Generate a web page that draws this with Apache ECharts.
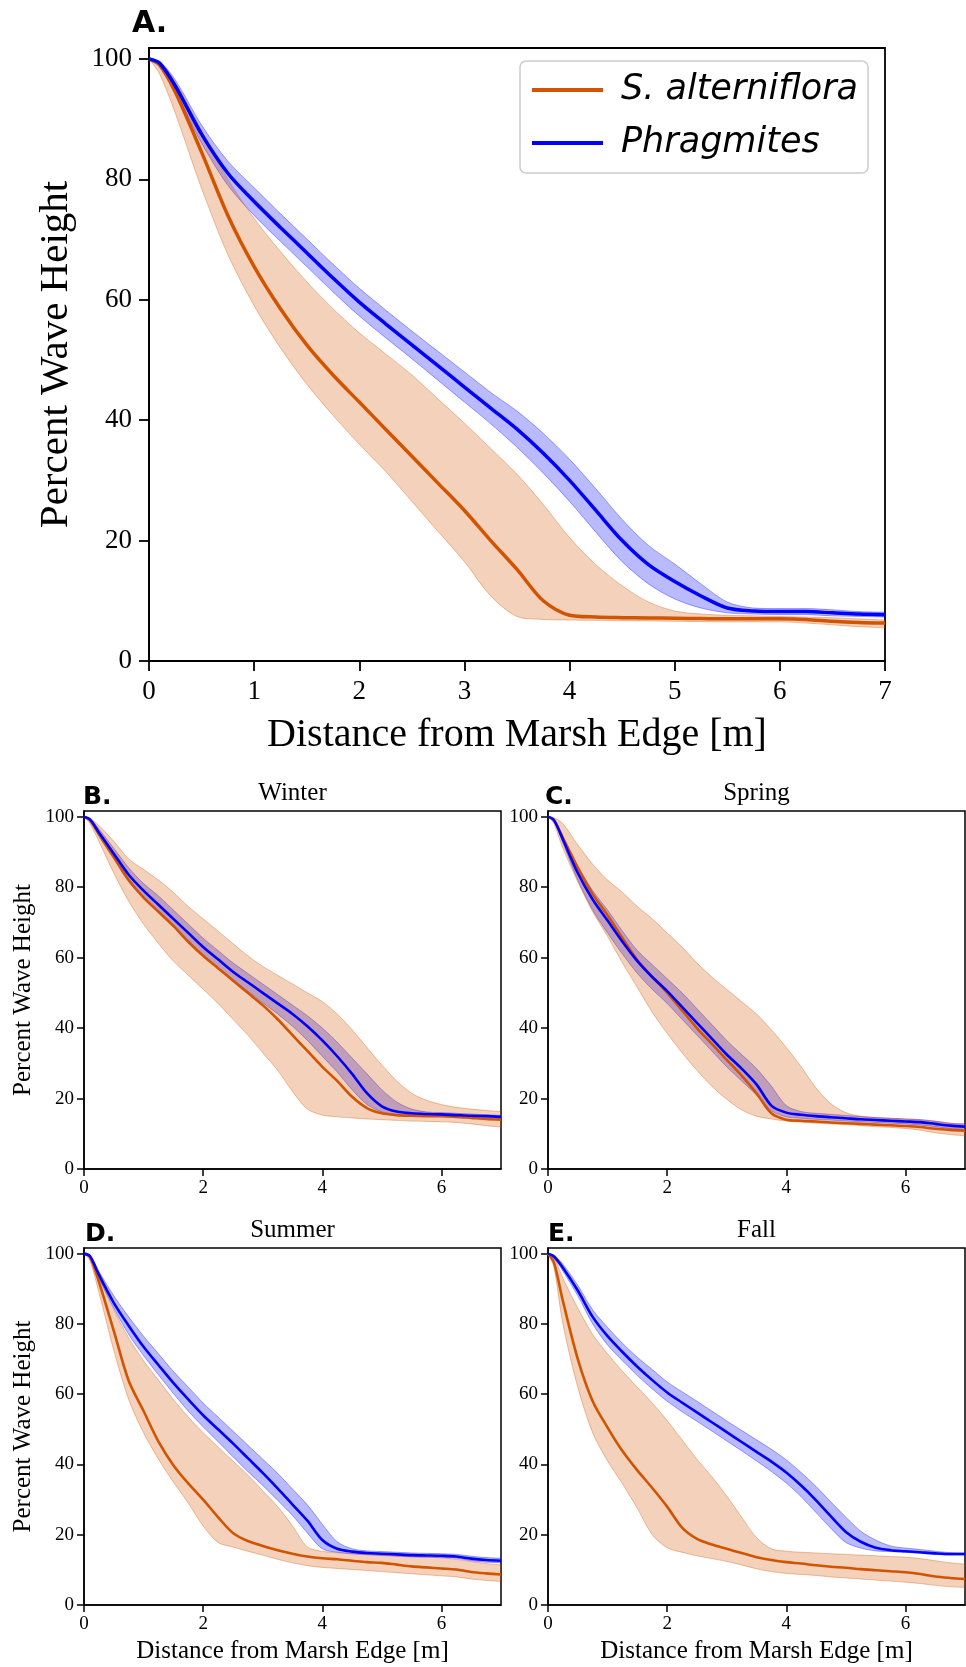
<!DOCTYPE html>
<html><head><meta charset="utf-8">
<script src="https://cdn.jsdelivr.net/npm/echarts@6/dist/echarts.min.js"></script>
<style>html,body{margin:0;padding:0;background:#fff}#c{width:966px;height:1667px}</style>
</head><body><div id="c"></div>
<script>
// distance from marsh edge [m]
const xs = [0,0.1,0.25,0.5,0.75,1,1.25,1.5,1.75,2,2.25,2.5,2.75,3,3.25,3.5,3.75,4,4.25,4.5,4.75,5,5.25,5.5,5.75,6,6.25,6.5,6.75,7];
const xTicksA = [0,1,2,3,4,5,6,7];
const xTicksSmall = [0,2,4,6];
const yTicks = [0,20,40,60,80,100];
const panelLetters = ['A.','B.','C.','D.','E.'];
const seasonTitles = ['', 'Winter', 'Spring', 'Summer', 'Fall'];
const seriesNames = ['S. alterniflora', 'Phragmites'];

// Panel A (all data)
const aSaltMean  = [100,99,94.5,84.5,74,65.5,58.5,52.5,47.5,43,38.5,34,29.5,25,20,15.2,10,7.6,7.3,7.2,7.15,7.1,7.05,7.0,7.0,7.0,6.9,6.6,6.4,6.3];
const aSaltLow   = [100,97.5,91,78.5,67.5,59,52,46,40.8,36,31.5,26.5,21.5,16.5,10.8,7.4,6.9,6.8,6.75,6.7,6.65,6.6,6.55,6.5,6.5,6.5,6.3,6.0,5.7,5.5];
const aSaltHigh  = [100,99.3,96,88,80,73.5,68,63,58.5,54.5,51,47.5,43.5,39.5,35.3,31,26,20.5,16,12.5,9.8,8.3,7.8,7.6,7.5,7.4,7.3,7.2,7.0,6.8];
const aPhragMean = [100,99.3,95.5,87.5,81,76.3,72,67.8,63.6,59.6,56,52.5,49,45.5,42,38.5,34.5,30,25,20,16,13.2,10.8,8.8,8.3,8.2,8.2,8.0,7.8,7.7];
const aPhragLow  = [100,99,94.5,86,79,74,69.7,65.5,61.3,57.3,53.7,50.2,46.6,43,39.4,35.5,31.2,26.5,21.4,16.5,12.8,10.3,8.8,8.0,7.8,7.7,7.7,7.5,7.4,7.3];
const aPhragHigh = [100,99.6,96.5,89,83,78.6,74.3,70.1,65.9,61.9,58.3,54.8,51.4,48,44.6,41.5,37.8,33.5,28.6,23.5,19.2,16.1,12.8,9.8,8.8,8.7,8.7,8.5,8.2,8.1];

// Panel B (Winter)
const wSaltMean  = [100,99,95,88.5,82,77,73,69,64.5,60.5,57,53.5,50,46.5,42.5,38,33.5,29,25,20.5,17.3,15.8,15.3,15.1,15,15,14.8,14.5,14.2,14];
const wSaltLow   = [100,98,93,84,76,69.5,64,59,55,51,47,42.5,38,33,28,22,17,15.3,14.8,14.5,14.2,14,13.8,13.6,13.5,13.4,13.2,12.8,12.3,11.9];
const wSaltHigh  = [100,99.5,97.5,93,88,85,82,78.5,74.5,71,67.5,64,60.5,57.5,55,52.5,50,47.5,44,39.5,34.5,29.5,25,21.5,19.5,18.3,17.5,17,16.6,16.3];
const wPhragMean = [100,99.2,95.5,89.5,83.5,79,75,71,67,63,59.5,56,53,50,47,44,40.5,36.5,32,27,21.5,17.8,16.3,15.8,15.6,15.5,15.3,15.1,15,14.8];
const wPhragLow  = [100,98.8,94.5,88,81.5,77,73,68.8,64.8,60.8,57.2,53.8,50.5,47.2,44,40.5,36.5,32,27.5,22.5,18.3,16.2,15.5,15.2,15,14.9,14.8,14.6,14.4,14.2];
const wPhragHigh = [100,99.5,96.5,91,85.5,81,77.5,73.5,69.5,65.5,62,58.5,55.5,52.5,49.5,46.5,43.5,40,36,31.5,27,22.5,19,17,16.2,16,15.8,15.6,15.4,15.2];

// Panel C (Spring)
const sSaltMean  = [100,99,94,85.5,78,72,65.5,59.3,54.5,50,45,40,35.5,31,26.5,21.5,15.8,14,13.7,13.5,13.2,13,12.8,12.6,12.4,12.2,11.9,11.4,11.1,10.9];
const sSaltLow   = [100,98,91,81.5,73,66,58.5,51.5,44.5,38.5,33,28,23.5,19.8,16.8,15,14.2,13.6,13.3,13,12.8,12.6,12.3,12,11.8,11.5,11,10.3,9.8,9.4];
const sSaltHigh  = [100,99.7,98,92,86.5,82,78.5,74.5,71,67,63,58.5,54.5,51,47.5,44,39.5,34.5,29,23,18.5,16,15,14.6,14.4,14.2,14,13.5,13.0,12.7];
const sPhragMean = [100,99,93.5,84,76.5,70.5,64.5,59,54.5,50.5,46,41.5,37,32.5,28.5,24,18,16,15.4,15,14.7,14.4,14.1,13.9,13.7,13.5,13.3,12.8,12.3,12];
const sPhragLow  = [100,98.7,92.5,82,73.5,67,61,55.5,51,47,42.5,38,33.5,29,25,21,16.5,14.8,14.4,14.1,13.9,13.6,13.4,13.2,13.0,12.8,12.5,12.0,11.5,11.2];
const sPhragHigh = [100,99.3,94.5,86,79,73.5,67.5,62,58,54,50,45.5,41,36.5,32.5,28.5,23.5,18,16.3,15.8,15.5,15.2,14.9,14.6,14.4,14.2,14.0,13.6,13.0,12.8];

// Panel D (Summer)
const uSaltMean  = [100,99,92,78,63.8,55.2,46.5,39.8,34.6,30,25,20.5,18.2,16.8,15.6,14.6,13.8,13.3,13,12.6,12.2,12,11.5,11,10.7,10.4,10.1,9.4,9.0,8.7];
const uSaltLow   = [100,98,89,72.5,58.5,49,41.5,35,29,22.5,17.8,16.5,15.3,14.2,13,12,11.2,10.7,10.4,10.1,9.8,9.5,9.2,8.9,8.6,8.3,8.0,7.4,7.0,6.7];
const uSaltHigh  = [100,99.3,93.5,84,76,69.5,64,58.5,53.5,49,45,41,37,32.5,28,22.5,16.5,15.3,14.9,14.6,14.4,14.2,14,13.8,13.6,13.4,13.0,12.4,11.8,11.4];
const uPhragMean = [100,99.3,94,86,79.5,73.5,68.3,63.2,58.5,54,50,46,41.8,37.6,33.2,28.6,24,18.5,16,15.2,14.8,14.6,14.4,14.2,14.1,14,13.8,13.2,12.8,12.6];
const uPhragLow  = [100,99,93,84.5,77,71,65.5,60.2,55.2,50.7,46.5,42.2,38,34,29.8,25.5,20.5,16,15,14.6,14.3,14.1,13.9,13.7,13.6,13.5,13.3,12.6,12.2,12.0];
const uPhragHigh = [100,99.5,95,88,82,76.5,71.5,66.5,62,57.5,53.5,49.5,45.5,41.5,37.5,33,28.5,23,18,16,15.4,15.2,15,14.8,14.7,14.6,14.4,13.9,13.5,13.3];

// Panel E (Fall)
const fSaltMean  = [100,97.5,86.5,70,58,50.5,43.8,38.3,33.3,28,22,18.8,17.2,16,14.8,13.6,12.8,12.2,11.8,11.3,10.9,10.6,10.2,9.9,9.6,9.3,8.8,8.1,7.7,7.4];
const fSaltLow   = [100,96,80,62,49,41,34.5,27.5,20,16.3,15,14,13.2,12.4,11.4,10.3,9.5,9,8.7,8.4,8.0,7.7,7.4,7.1,6.8,6.5,6.1,5.6,5.2,5.0];
const fSaltHigh  = [100,99,93,84.5,77,71.5,66.5,62,57.5,52.5,47,41.5,36.5,31,25,19.2,16,15.3,15,14.8,14.6,14.4,14.2,14,13.8,13.6,13.2,12.6,12.0,11.6];
const fPhragMean = [100,99.2,96,89.5,82,76.5,72,67.8,64,60.5,57.6,54.8,52,49.2,46.4,43.6,40.8,37.7,34,29.8,25.2,20.8,18,16.3,15.6,15.3,15,14.7,14.5,14.5];
const fPhragLow  = [100,98.8,95,88,80,74,69.5,65.3,61.5,58,55,52.3,49.5,46.7,43.9,41,38,34.7,30.8,26.3,21.8,17.8,16.2,15.4,15.2,15,14.7,14.4,14.2,14.2];
const fPhragHigh = [100,99.6,97,91,84,79,74.5,70.5,67,63.5,60.7,58,55.2,52.4,49.7,47,44.3,41.3,37.7,33.7,29.3,25,21,18.5,16.8,16.2,15.8,15.3,14.9,14.8];

const ORANGE = '#d25400';
const BLUE = '#0000ff';
const SERIF = "'Liberation Serif','Times New Roman','DejaVu Serif',serif";
const BOLDSANS = "'DejaVu Sans',sans-serif";

const panels = [
  {grid:{left:149, top:48, width:736, height:613}, big:true, ymax:101.8, yName:true, xName:true,
   salt:[aSaltMean,aSaltLow,aSaltHigh], phrag:[aPhragMean,aPhragLow,aPhragHigh]},
  {grid:{left:84, top:811, width:417, height:358}, big:false, ymax:101.6, yName:true, xName:false,
   salt:[wSaltMean,wSaltLow,wSaltHigh], phrag:[wPhragMean,wPhragLow,wPhragHigh]},
  {grid:{left:548, top:811, width:417, height:358}, big:false, ymax:101.6, yName:false, xName:false,
   salt:[sSaltMean,sSaltLow,sSaltHigh], phrag:[sPhragMean,sPhragLow,sPhragHigh]},
  {grid:{left:84, top:1248, width:417, height:357}, big:false, ymax:101.6, yName:true, xName:true,
   salt:[uSaltMean,uSaltLow,uSaltHigh], phrag:[uPhragMean,uPhragLow,uPhragHigh]},
  {grid:{left:548, top:1248, width:417, height:357}, big:false, ymax:101.6, yName:false, xName:true,
   salt:[fSaltMean,fSaltLow,fSaltHigh], phrag:[fPhragMean,fPhragLow,fPhragHigh]}
];

function pairs(arr){ return xs.map((x,i)=>[x, arr[i]]); }
// band data stored as [value, x] so that the value dimension is the stacked one
function bandLow(lo){ return xs.map((x,i)=>[lo[i], x]); }
function bandDiff(hi, lo){ return xs.map((x,i)=>[+(hi[i]-lo[i]).toFixed(3), x]); }

const SMOOTH = 0.3;
const grids = [], xAxes = [], yAxes = [], series = [], titles = [];
panels.forEach((p, i) => {
  const big = p.big;
  const lw = big ? 1.8 : 1.5;
  grids.push(Object.assign({show:true, borderColor:'#000', borderWidth:lw, backgroundColor:'rgba(0,0,0,0)', containLabel:false}, p.grid));
  const xt = big ? xTicksA : xTicksSmall;
  xAxes.push({
    type:'value', gridIndex:i, min:0, max:7, interval: big?1:2,
    axisLine:{show:true, onZero:false, lineStyle:{color:'#000', width:lw}},
    axisTick:{show:true, inside:false, length: big?10:7, customValues: xt, lineStyle:{color:'#000', width:lw}},
    axisLabel:{customValues: xt, color:'#000', fontFamily:SERIF, fontSize: big?27:19, margin: big?17:10},
    splitLine:{show:false},
    name: p.xName ? 'Distance from Marsh Edge [m]' : '', nameLocation:'middle', nameGap: big?54:34,
    nameTextStyle:{fontFamily:SERIF, fontSize: big?40:25, color:'#000'}
  });
  yAxes.push({
    type:'value', gridIndex:i, min:0, max:p.ymax, interval:20,
    axisLine:{show:true, onZero:false, lineStyle:{color:'#000', width:lw}},
    axisTick:{show:true, inside:false, length: big?10:7, customValues: yTicks, lineStyle:{color:'#000', width:lw}},
    axisLabel:{customValues: yTicks, color:'#000', fontFamily:SERIF, fontSize: big?27:19, margin: big?17:10},
    splitLine:{show:false},
    name: p.yName ? 'Percent Wave Height' : '', nameLocation:'middle', nameGap: big?72:48,
    nameTextStyle:{fontFamily:SERIF, fontSize: big?41:25, color:'#000'}
  });
  const band = (key, lo, hi, color, z) => {
    const edge = {color, opacity:0.35, width:1};
    const enc = {x:1, y:0};
    return [
      {type:'line', name:key+'_lo', xAxisIndex:i, yAxisIndex:i, stack:key, encode:enc, data:bandLow(lo), symbol:'none', smooth:SMOOTH,
       lineStyle:edge, silent:true, z, animation:false},
      {type:'line', name:key+'_hi', xAxisIndex:i, yAxisIndex:i, stack:key, encode:enc, data:bandDiff(hi, lo), symbol:'none', smooth:SMOOTH,
       lineStyle:edge, areaStyle:{color, opacity:0.27}, silent:true, z, animation:false}
    ];
  };
  series.push(...band('phragBand'+i, p.phrag[1], p.phrag[2], BLUE, 2));
  series.push(...band('saltBand'+i, p.salt[1], p.salt[2], ORANGE, 3));
  const mw = big ? 3.5 : 2.6;
  series.push({type:'line', name:seriesNames[0], xAxisIndex:i, yAxisIndex:i, data:pairs(p.salt[0]), symbol:'none', smooth:SMOOTH,
    lineStyle:{color:ORANGE, width:mw}, itemStyle:{color:ORANGE}, z:5, animation:false});
  series.push({type:'line', name:seriesNames[1], xAxisIndex:i, yAxisIndex:i, data:pairs(p.phrag[0]), symbol:'none', smooth:SMOOTH,
    lineStyle:{color:BLUE, width:mw}, itemStyle:{color:BLUE}, z:6, animation:false});
});

// panel letters
const letterPos = [[132,9,30],[83,785,25],[545,785,25],[85,1222,25],[548,1222,25]];
panelLetters.forEach((t, i) => {
  titles.push({text:t, left:letterPos[i][0], top:letterPos[i][1], padding:0,
    textStyle:{fontFamily:BOLDSANS, fontWeight:'bold', fontSize:letterPos[i][2], color:'#000'}});
});
// season titles
const titlePos = [null,[292.5,781],[756.5,781],[292.5,1218],[756.5,1218]];
seasonTitles.forEach((t, i) => {
  if (!t) return;
  titles.push({text:t, left:titlePos[i][0], top:titlePos[i][1], textAlign:'center', padding:0,
    textStyle:{fontFamily:SERIF, fontWeight:'normal', fontSize:25, color:'#000'}});
});

const chart = echarts.init(document.getElementById('c'), null, {renderer:'canvas'});
chart.setOption({
  backgroundColor:'#fff',
  animation:false,
  title: titles,
  legend: {
    data: seriesNames, orient:'vertical', left:520, top:61,
    padding:[9,10,10,12], itemGap:13, itemWidth:71, itemHeight:4, icon:'rect',
    backgroundColor:'rgba(255,255,255,0.8)', borderColor:'#cccccc', borderWidth:1.5, borderRadius:6,
    textStyle:{fontFamily:"'DejaVu Sans',sans-serif", fontStyle:'italic', fontSize:35, color:'#000', lineHeight:40, padding:[0,0,0,13]},
    selectedMode:false
  },
  grid: grids, xAxis: xAxes, yAxis: yAxes, series: series
});
</script></body></html>
